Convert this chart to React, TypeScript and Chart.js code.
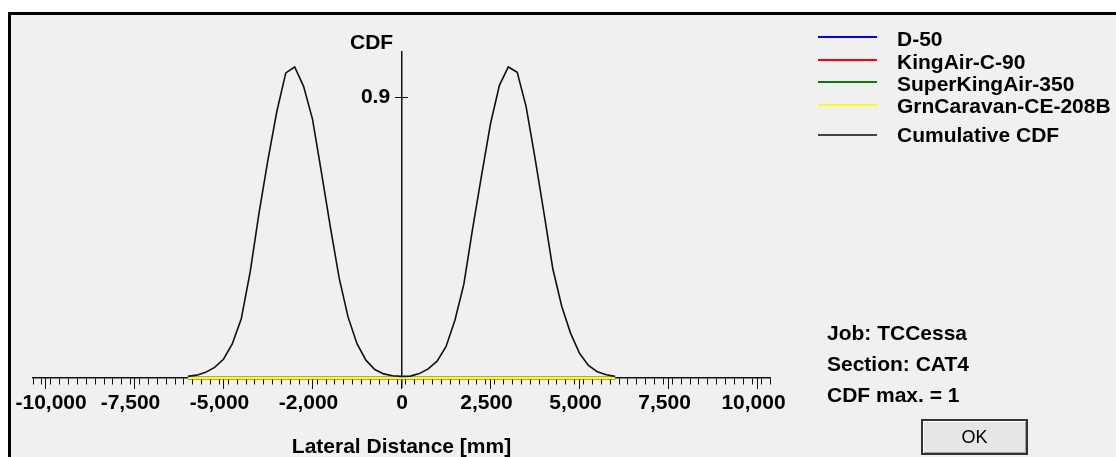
import React, { useEffect, useRef } from 'react';
import { Chart, registerables } from 'chart.js';

Chart.register(...registerables);

// ---------- data ----------
const LATERAL_MM = [
  -6000, -5750, -5500, -5250, -5000, -4750, -4500, -4250, -4000, -3750, -3500, -3250,
  -3000, -2750, -2500, -2250, -2000, -1750, -1500, -1250, -1000, -750, -500, -250,
  0, 250, 500, 750, 1000, 1250, 1500, 1750, 2000, 2250, 2500, 2750, 3000, 3250,
  3500, 3750, 4000, 4250, 4500, 4750, 5000, 5250, 5500, 5750, 6000,
];

const CUMULATIVE_CDF = [
  0.005, 0.009, 0.018, 0.034, 0.060, 0.110, 0.190, 0.340, 0.530, 0.700, 0.855, 0.978,
  0.997, 0.935, 0.830, 0.660, 0.485, 0.320, 0.195, 0.110, 0.057, 0.027, 0.013, 0.007,
  0.005, 0.006, 0.014, 0.029, 0.054, 0.100, 0.185, 0.300, 0.480, 0.650, 0.815, 0.938, 0.997, 0.980,
  0.870, 0.705, 0.530, 0.350, 0.230, 0.143, 0.079, 0.040, 0.020, 0.010, 0.005,
];

const D_50 = [
  0, 0, 0, 0, 0, 0, 0, 0, 0, 0, 0, 0, 0, 0, 0, 0, 0, 0, 0, 0, 0, 0, 0, 0,
  0, 0, 0, 0, 0, 0, 0, 0, 0, 0, 0, 0, 0, 0, 0, 0, 0, 0, 0, 0, 0, 0, 0, 0, 0,
];
const KINGAIR_C_90 = [
  0, 0, 0, 0, 0, 0, 0, 0, 0, 0, 0, 0, 0, 0, 0, 0, 0, 0, 0, 0, 0, 0, 0, 0,
  0, 0, 0, 0, 0, 0, 0, 0, 0, 0, 0, 0, 0, 0, 0, 0, 0, 0, 0, 0, 0, 0, 0, 0, 0,
];
const SUPERKINGAIR_350 = [
  0, 0, 0, 0, 0, 0, 0, 0, 0, 0, 0, 0, 0, 0, 0, 0, 0, 0, 0, 0, 0, 0, 0, 0,
  0, 0, 0, 0, 0, 0, 0, 0, 0, 0, 0, 0, 0, 0, 0, 0, 0, 0, 0, 0, 0, 0, 0, 0, 0,
];
const GRNCARAVAN_CE_208B = [
  0, 0, 0, 0, 0, 0, 0, 0, 0, 0, 0, 0, 0, 0, 0, 0, 0, 0, 0, 0, 0, 0, 0, 0,
  0, 0, 0, 0, 0, 0, 0, 0, 0, 0, 0, 0, 0, 0, 0, 0, 0, 0, 0, 0, 0, 0, 0, 0, 0,
];

const SERIES_NAMES = ['D-50', 'KingAir-C-90', 'SuperKingAir-350', 'GrnCaravan-CE-208B', 'Cumulative CDF'];
const SERIES_VALUES = [D_50, KINGAIR_C_90, SUPERKINGAIR_350, GRNCARAVAN_CE_208B, CUMULATIVE_CDF];
const SERIES_COLORS = ['#0000ff', '#ff0000', '#008000', '#ffff00', '#111111'];

// axes
const X_MIN = -10350;
const X_MAX = 10350;
const X_MINOR_STEP = 250;
const X_MAJOR_TICKS = [-10000, -7500, -5000, -2500, 0, 2500, 5000, 7500, 10000];
const X_MAJOR_LABELS = ['-10,000', '-7,500', '-5,000', '-2,000', '0', '2,500', '5,000', '7,500', '10,000'];
const Y_MIN = -0.029;
const Y_MAX = 1.045;
const Y_TICKS = [0.9];
const Y_TICK_LABELS = ['0.9'];

const INFO_LINES = ['Job: TCCessa', 'Section: CAT4', 'CDF max. = 1'];

// ---------- styling ----------
const FONT = "'Liberation Sans', Arial, sans-serif";
const BOLD = { family: FONT, size: 21, weight: 'bold' as const };
const AXIS_COLOR = '#111111';

const LEGEND_LINE_Y = [37, 60, 82, 105, 135];
const LEGEND_TEXT_TOP = [27, 50, 72, 94, 123];
const INFO_TOP = [321, 352, 383];

function labelFor(v: number) {
  const i = X_MAJOR_TICKS.indexOf(v);
  return i >= 0 ? X_MAJOR_LABELS[i] : '';
}

function xAxisBase() {
  return {
    type: 'linear' as const,
    axis: 'x' as const,
    position: { y: 0 },
    min: X_MIN,
    max: X_MAX,
    border: { display: false },
    ticks: { autoSkip: false, maxRotation: 0, minRotation: 0, includeBounds: false },
  };
}

function yAxisBase() {
  return {
    type: 'linear' as const,
    axis: 'y' as const,
    min: Y_MIN,
    max: Y_MAX,
    border: { display: false },
    afterBuildTicks: (s: any) => {
      s.ticks = Y_TICKS.map((v) => ({ value: v }));
    },
  };
}

export default function App() {
  const canvasRef = useRef<HTMLCanvasElement | null>(null);

  useEffect(() => {
    const canvas = canvasRef.current;
    if (!canvas) return;

    const datasets = SERIES_NAMES.map((name, i) => ({
      label: name,
      data: LATERAL_MM.map((x, k) => ({ x, y: SERIES_VALUES[i][k] })),
      borderColor: SERIES_COLORS[i],
      backgroundColor: SERIES_COLORS[i],
      borderWidth: i === 4 ? 1.6 : 2.6,
      pointRadius: 0,
      tension: 0,
      fill: false,
      order: SERIES_NAMES.length - 1 - i,
      xAxisID: 'x',
      yAxisID: 'y',
    }));

    const chart = new Chart(canvas, {
      type: 'line',
      data: { datasets },
      options: {
        animation: false,
        responsive: false,
        events: [],
        layout: { padding: { left: 22, top: 37, right: 346, bottom: 70 } },
        plugins: { legend: { display: false }, tooltip: { enabled: false } },
        scales: {
          // minor ticks + axis line
          x: {
            ...xAxisBase(),
            border: { display: true, color: AXIS_COLOR, width: 1.5 },
            grid: { drawOnChartArea: false, drawTicks: true, tickLength: 6, tickColor: AXIS_COLOR, tickWidth: 1 },
            ticks: { stepSize: X_MINOR_STEP, includeBounds: false, autoSkip: false, display: false, maxRotation: 0, minRotation: 0 },
          },
          // major ticks + labels + title
          xMajor: {
            ...xAxisBase(),
            grid: { drawOnChartArea: false, drawTicks: true, tickLength: 11, tickColor: AXIS_COLOR, tickWidth: 1 },
            afterBuildTicks: (s: any) => {
              s.ticks = X_MAJOR_TICKS.map((v) => ({ value: v }));
            },
            ticks: {
              autoSkip: false, maxRotation: 0, minRotation: 0,
              padding: 2, labelOffset: -4, font: BOLD, color: '#000',
              callback: (v: any) => (v === X_MAJOR_TICKS[0] || v === 0 ? '' : labelFor(v)),
            },
            title: { display: true, text: 'Lateral Distance [mm]', font: BOLD, color: '#000', padding: { top: 16, bottom: 0 } },
          },
          // edge label (-10,000)
          xEdge: {
            ...xAxisBase(),
            grid: { display: false, drawTicks: false },
            afterBuildTicks: (s: any) => {
              s.ticks = [{ value: X_MAJOR_TICKS[0] }];
            },
            ticks: {
              autoSkip: false, maxRotation: 0, minRotation: 0, align: 'start',
              padding: 13, labelOffset: -30, font: BOLD, color: '#000',
              callback: (v: any) => labelFor(v),
            },
          },
          // origin label (0)
          xZero: {
            ...xAxisBase(),
            grid: { display: false, drawTicks: false },
            afterBuildTicks: (s: any) => {
              s.ticks = [{ value: 0 }];
            },
            ticks: {
              autoSkip: false, maxRotation: 0, minRotation: 0,
              padding: 13, labelOffset: 0.5, font: BOLD, color: '#000',
              callback: (v: any) => labelFor(v),
            },
          },
          // vertical axis line + left half of the cross tick
          y: {
            ...yAxisBase(),
            position: { x: 0 },
            border: { display: true, color: AXIS_COLOR, width: 1.5 },
            grid: { drawOnChartArea: false, drawTicks: true, tickLength: 6, tickColor: AXIS_COLOR, tickWidth: 1 },
            ticks: { display: false },
          },
          // right half of the cross-shaped 0.9 tick
          yCross: {
            ...yAxisBase(),
            position: { x: 170 },
            grid: { drawOnChartArea: false, drawTicks: true, tickLength: 6, tickColor: AXIS_COLOR, tickWidth: 1 },
            ticks: { display: false },
          },
          // "0.9" label, set left of the tick
          yLabel: {
            ...yAxisBase(),
            position: { x: -320 },
            grid: { display: false, drawTicks: false },
            ticks: {
              font: BOLD, color: '#000',
              callback: (v: any) => {
                const i = Y_TICKS.indexOf(v);
                return i >= 0 ? Y_TICK_LABELS[i] : '';
              },
            },
          },
        } as any,
      },
    });

    return () => chart.destroy();
  }, []);

  const text: React.CSSProperties = {
    position: 'absolute',
    fontFamily: FONT,
    fontWeight: 'bold',
    fontSize: 21,
    lineHeight: '24px',
    color: '#000',
    whiteSpace: 'nowrap',
  };

  return (
    <div style={{ position: 'fixed', left: 0, top: 0, width: 1116, height: 457, background: '#fff', overflow: 'hidden' }}>
      <div
        style={{
          position: 'absolute', left: 8, top: 12, width: 1108, height: 445,
          boxSizing: 'border-box', borderLeft: '3px solid #000', borderTop: '3px solid #000',
          background: '#f0f0f0',
        }}
      />
      <canvas
        ref={canvasRef}
        width={1105}
        height={442}
        style={{ position: 'absolute', left: 11, top: 15, width: 1105, height: 442 }}
      />
      <div style={{ ...text, left: 350, top: 30 }}>CDF</div>

      {SERIES_NAMES.map((name, i) => (
        <React.Fragment key={name}>
          <div
            style={{
              position: 'absolute', left: 818, top: LEGEND_LINE_Y[i] - 1, width: 59, height: 2,
              background: i === 4 ? '#444' : SERIES_COLORS[i],
            }}
          />
          <div style={{ ...text, left: 897, top: LEGEND_TEXT_TOP[i] }}>{name}</div>
        </React.Fragment>
      ))}

      {INFO_LINES.map((line, i) => (
        <div key={line} style={{ ...text, left: 827, top: INFO_TOP[i] }}>{line}</div>
      ))}

      <div
        style={{
          position: 'absolute', left: 921, top: 419, width: 107, height: 36, boxSizing: 'border-box',
          border: '2px solid #333', boxShadow: 'inset 1px 1px #fff, inset -1px -1px #a0a0a0',
          background: '#e6e6e6', fontFamily: FONT, fontSize: 18, color: '#000',
          display: 'flex', alignItems: 'center', justifyContent: 'center',
        }}
      >
        OK
      </div>
    </div>
  );
}
